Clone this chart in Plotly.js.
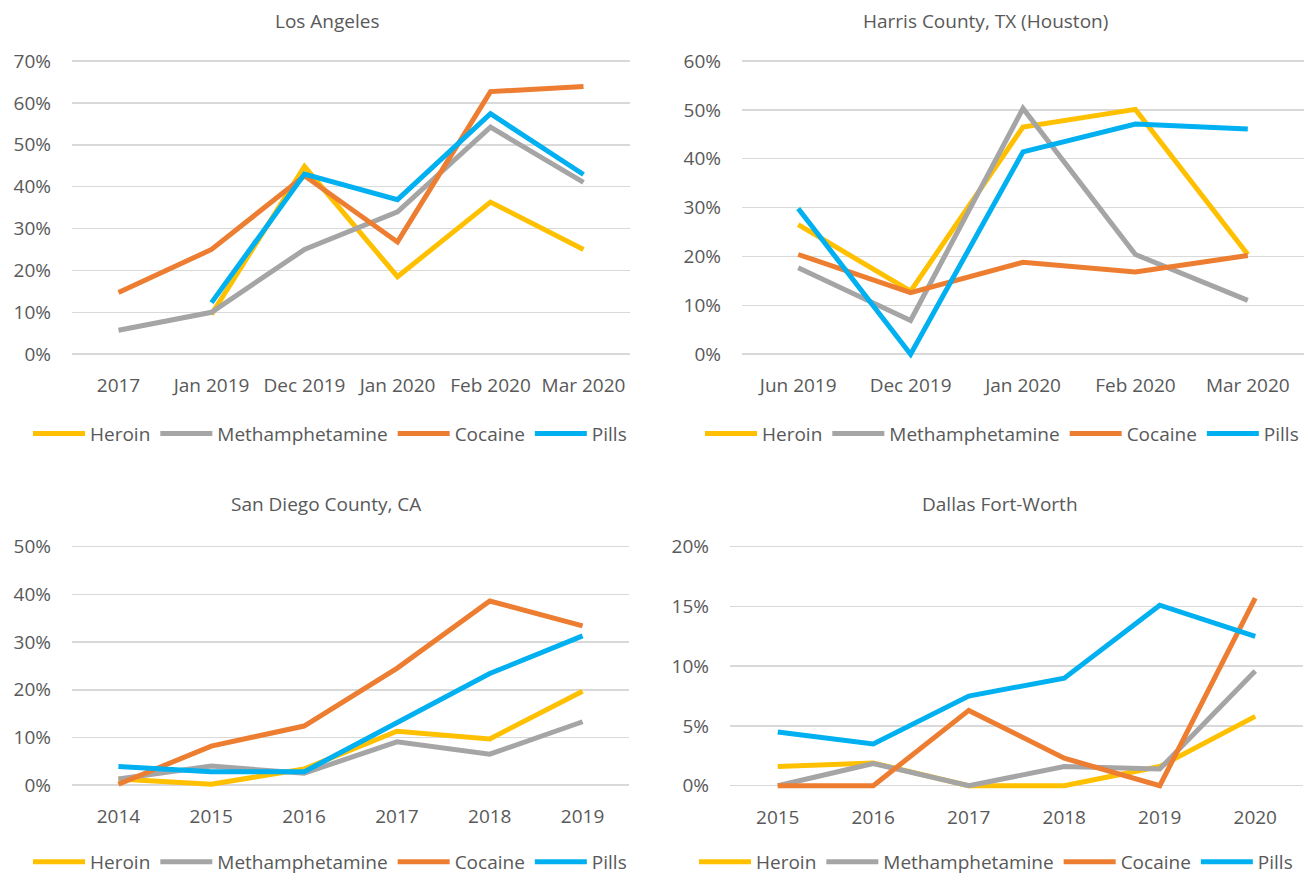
<!DOCTYPE html>
<html>
<head>
<meta charset="utf-8">
<script src="https://cdn.plot.ly/plotly-3.0.1.min.js"></script>
<style>
  html, body { margin: 0; padding: 0; background: #ffffff; }
  #chart { width: 1309px; height: 881px; }
</style>
</head>
<body>
<div id="chart"></div>
<script>
// ---------------- data ----------------
var seriesNames = ['Heroin', 'Methamphetamine', 'Cocaine', 'Pills'];

var laTitle = 'Los Angeles';
var laCats = ['2017', 'Jan 2019', 'Dec 2019', 'Jan 2020', 'Feb 2020', 'Mar 2020'];
var laHeroin = [null, 0.095, 0.448, 0.185, 0.363, 0.25];
var laMeth = [0.057, 0.10, 0.25, 0.34, 0.542, 0.41];
var laCocaine = [0.147, 0.25, 0.426, 0.268, 0.627, 0.639];
var laPills = [null, 0.123, 0.43, 0.369, 0.574, 0.429];

var houTitle = 'Harris County, TX (Houston)';
var houCats = ['Jun 2019', 'Dec 2019', 'Jan 2020', 'Feb 2020', 'Mar 2020'];
var houHeroin = [0.265, 0.129, 0.465, 0.501, 0.204];
var houMeth = [0.177, 0.069, 0.503, 0.204, 0.11];
var houCocaine = [0.204, 0.126, 0.188, 0.168, 0.202];
var houPills = [0.298, 0.0, 0.414, 0.471, 0.461];

var sdTitle = 'San Diego County, CA';
var sdCats = ['2014', '2015', '2016', '2017', '2018', '2019'];
var sdHeroin = [0.013, 0.002, 0.034, 0.113, 0.097, 0.197];
var sdMeth = [0.013, 0.04, 0.025, 0.091, 0.065, 0.133];
var sdCocaine = [0.002, 0.082, 0.124, 0.245, 0.386, 0.334];
var sdPills = [0.039, 0.028, 0.028, 0.131, 0.234, 0.313];

var dfwTitle = 'Dallas Fort-Worth';
var dfwCats = ['2015', '2016', '2017', '2018', '2019', '2020'];
var dfwHeroin = [0.016, 0.019, 0, 0, 0.016, 0.058];
var dfwMeth = [0, 0.0186, 0, 0.016, 0.014, 0.096];
var dfwCocaine = [0, 0, 0.063, 0.023, 0, 0.157];
var dfwPills = [0.045, 0.035, 0.075, 0.09, 0.151, 0.125];

// ---------------- styling ----------------
var W = 1309, H = 881;
var FONT = "'Open Sans', 'Noto Sans', sans-serif";
var TXT = '#595959';
var colors = ['#FFC000', '#A5A5A5', '#ED7D31', '#00B0F0'];
var FS = 19;

var panels = [
  {title: laTitle, cats: laCats, data: [laHeroin, laMeth, laCocaine, laPills],
   x0: 72, x1: 630, yZero: 357, yTop: 61.5, vmax: 0.7, dtick: 0.1,
   titleX: 327, titleY: 21, legX: 330, legY: 437, ax: ''},
  {title: houTitle, cats: houCats, data: [houHeroin, houMeth, houCocaine, houPills],
   x0: 742, x1: 1304, yZero: 357, yTop: 61.5, vmax: 0.6, dtick: 0.1,
   titleX: 985, titleY: 21, legX: 1002, legY: 437, ax: '2'},
  {title: sdTitle, cats: sdCats, data: [sdHeroin, sdMeth, sdCocaine, sdPills],
   x0: 72, x1: 629, yZero: 791.5, yTop: 551, vmax: 0.5, dtick: 0.1,
   titleX: 326, titleY: 508, legX: 330, legY: 869, ax: '3'},
  {title: dfwTitle, cats: dfwCats, data: [dfwHeroin, dfwMeth, dfwCocaine, dfwPills],
   x0: 730, x1: 1303, yZero: 792, yTop: 551, vmax: 0.2, dtick: 0.05,
   titleX: 1000, titleY: 508, legX: 996, legY: 869, ax: '4'}
];

var traces = [];
var layout = {
  width: W, height: H,
  margin: {l: 0, r: 0, t: 0, b: 0},
  paper_bgcolor: '#ffffff', plot_bgcolor: '#ffffff',
  font: {family: FONT, size: FS, color: TXT},
  showlegend: true,
  annotations: []
};

panels.forEach(function (p, i) {
  var pad = 8;
  var ppu = (p.yZero - p.yTop) / p.vmax;
  var xa = 'xaxis' + p.ax, ya = 'yaxis' + p.ax;
  var legName = i === 0 ? 'legend' : 'legend' + (i + 1);
  layout[xa] = {
    type: 'category',
    categoryarray: p.cats, categoryorder: 'array',
    range: [-0.5, p.cats.length - 0.5],
    domain: [p.x0 / W, p.x1 / W],
    anchor: 'y' + p.ax,
    showgrid: false, zeroline: false, showline: false, ticks: '',
    ticklabelstandoff: 10,
    tickfont: {family: FONT, size: FS, color: TXT},
    fixedrange: true
  };
  layout[ya] = {
    range: [-pad / ppu, p.vmax + pad / ppu],
    domain: [1 - (p.yZero + pad) / H, 1 - (p.yTop - pad) / H],
    anchor: 'x' + p.ax,
    tickmode: 'linear', tick0: 0, dtick: p.dtick,
    tickformat: '.0%',
    showgrid: true, gridcolor: '#D9D9D9', gridwidth: 1.5,
    zeroline: false, showline: false, ticks: '',
    ticklabelstandoff: 20,
    tickfont: {family: FONT, size: FS, color: TXT},
    fixedrange: true
  };
  layout[legName] = {
    orientation: 'h',
    x: p.legX / W, xanchor: 'center',
    y: 1 - p.legY / H, yanchor: 'middle',
    font: {family: FONT, size: FS, color: TXT},
    itemwidth: 52,
    bgcolor: 'rgba(0,0,0,0)',
    traceorder: 'normal'
  };
  layout.annotations.push({
    text: p.title, xref: 'paper', yref: 'paper',
    x: p.titleX / W, y: 1 - p.titleY / H,
    xanchor: 'center', yanchor: 'middle', showarrow: false,
    font: {family: FONT, size: FS, color: TXT}
  });
  p.data.forEach(function (vals, k) {
    traces.push({
      type: 'scatter', mode: 'lines',
      x: p.cats, y: vals,
      name: seriesNames[k],
      xaxis: 'x' + p.ax, yaxis: 'y' + p.ax,
      legend: legName,
      line: {color: colors[k], width: 5, shape: 'linear'},
      connectgaps: false,
      hoverinfo: 'skip'
    });
  });
});

Plotly.newPlot('chart', traces, layout, {displayModeBar: false, staticPlot: true});
</script>
</body>
</html>
